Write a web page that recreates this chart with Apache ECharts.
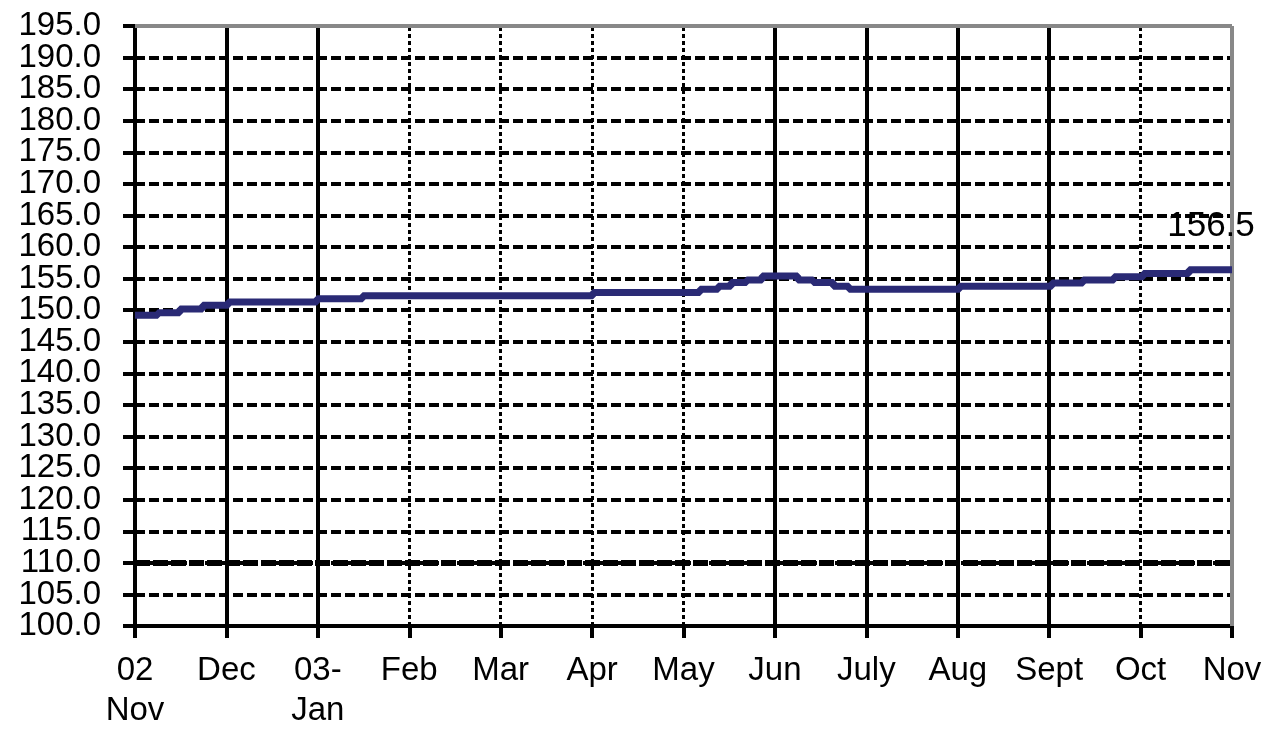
<!DOCTYPE html>
<html>
<head>
<meta charset="utf-8">
<script src="https://cdn.jsdelivr.net/npm/echarts@6/dist/echarts.min.js"></script>
<style>
html,body{margin:0;padding:0;background:#fff;}
#chart{width:1266px;height:731px;}
</style>
</head>
<body>
<div id="chart"></div>
<script>
// Tick labels along the x axis (month positions 0..12)
const monthLabels = ["02\nNov","Dec","03-\nJan","Feb","Mar","Apr","May","Jun","July","Aug","Sept","Oct","Nov"];
// Which month gridlines are solid (others dotted)
const solidMonths = [1,2,7,8,9,10];
const dottedMonths = [3,4,5,6,11];
// Series: position in months from 02 Nov, and index value
const seriesPos = [0,0.25,0.49,0.74,1.02,1.99,2.49,5.01,6.18,6.38,6.52,6.69,6.86,7.25,7.42,7.64,7.81,9.02,10.03,10.37,10.71,11.03,11.53,12];
const seriesVal = [149.2,149.6,150.2,150.8,151.3,151.8,152.3,152.8,153.3,153.8,154.4,154.8,155.4,154.8,154.4,153.8,153.3,153.8,154.3,154.8,155.3,155.8,156.4,156.5];
const yMin = 100, yMax = 195, yStep = 5;
const highlightLevel = 110;

const FONT = '"Liberation Sans", Arial, sans-serif';
const chart = echarts.init(document.getElementById('chart'), null, {renderer:'canvas'});

const lineData = seriesPos.map((p,i)=>[p, seriesVal[i]]);
const lastIdx = seriesPos.length - 1;

const gridMarks = [];
solidMonths.forEach(m=>gridMarks.push({xAxis:m, lineStyle:{color:'#000', width:4, type:'solid'}}));
dottedMonths.forEach(m=>gridMarks.push({xAxis:m, lineStyle:{color:'#000', width:3, type:[4,3]}}));
gridMarks.push({yAxis:highlightLevel, lineStyle:{color:'#000', width:6, type:[15,3]}});
gridMarks.push({yAxis:yMax, lineStyle:{color:'#888', width:4, type:'solid'}});
gridMarks.push({xAxis:monthLabels.length-1, lineStyle:{color:'#888', width:4, type:'solid'}});

// y labels split over two overlaid axes (alternating) so none get auto-hidden
const yLabelFmt = parity => v => {
  const k = Math.round((v - yMin) / yStep);
  return (k % 2 === parity) ? v.toFixed(1) : '';
};
const yLabelStyle = {fontFamily:FONT, fontSize:33, color:'#000', margin:34, hideOverlap:false};

const option = {
  animation:false,
  backgroundColor:'#fff',
  grid:{left:135, right:34, top:26, bottom:101, containLabel:false},
  xAxis:{
    type:'value', min:0, max:monthLabels.length-1, interval:1,
    axisLine:{show:true, onZero:false, lineStyle:{color:'#000', width:4}},
    axisTick:{show:true, length:12, lineStyle:{color:'#000', width:4}},
    splitLine:{show:false},
    axisLabel:{
      formatter:v=>monthLabels[Math.round(v)] || '',
      showMinLabel:true, showMaxLabel:true, hideOverlap:false,
      fontFamily:FONT, fontSize:33, lineHeight:40, color:'#000', margin:25
    }
  },
  yAxis:[{
    type:'value', min:yMin, max:yMax, interval:yStep, position:'left',
    axisLine:{show:true, onZero:false, lineStyle:{color:'#000', width:4}},
    axisTick:{show:true, length:12, lineStyle:{color:'#000', width:4}},
    splitLine:{show:true, lineStyle:{color:'#000', width:4, type:[10,4]}},
    axisLabel:Object.assign({formatter:yLabelFmt(0)}, yLabelStyle)
  },{
    type:'value', min:yMin, max:yMax, interval:yStep, position:'left', offset:0,
    axisLine:{show:false}, axisTick:{show:false}, splitLine:{show:false},
    axisLabel:Object.assign({formatter:yLabelFmt(1)}, yLabelStyle)
  }],
  series:[
    {
      type:'line', data:[], z:1, silent:true,
      markLine:{silent:true, symbol:'none', label:{show:false}, animation:false, data:gridMarks}
    },
    {
      type:'line', data:lineData, z:5, step:'end', showSymbol:false, symbol:'none',
      lineStyle:{color:'#2a2a75', width:7},
      markPoint:{
        symbol:'circle', symbolSize:0, animation:false,
        data:[{coord:lineData[lastIdx], value:seriesVal[lastIdx]}],
        label:{show:true, position:'inside', offset:[-21,-43], formatter:p=>p.value.toFixed(1),
          fontFamily:FONT, fontSize:35, color:'#000'}
      }
    }
  ]
};
chart.setOption(option);
</script>
</body>
</html>
